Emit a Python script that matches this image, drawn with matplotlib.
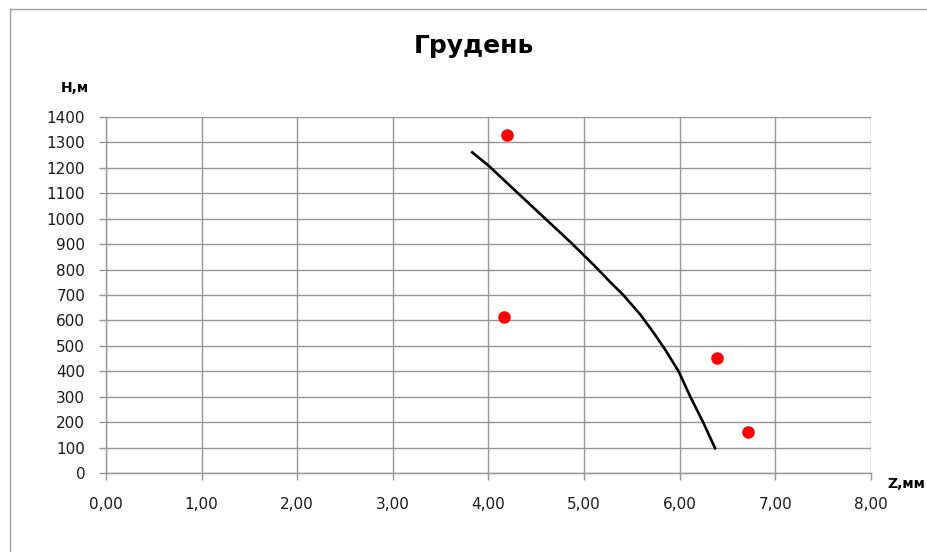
import numpy as np
import matplotlib
matplotlib.use("Agg")
import matplotlib.pyplot as plt
from matplotlib.lines import Line2D

# measured points (Z, mm ; H, m)
z_pts = [4.19, 4.16, 6.39, 6.71]
h_pts = [1328, 612, 451, 161]

# fitted curve
z_line = [3.83, 4.00, 4.31, 4.59, 4.87, 5.10, 5.27, 5.41, 5.59, 5.73, 5.85, 5.99, 6.11, 6.25, 6.37]
h_line = [1260, 1208, 1099, 1001, 903, 818, 752, 700, 622, 550, 484, 399, 301, 196, 98]

x_ticks = [0, 1, 2, 3, 4, 5, 6, 7, 8]
y_ticks = list(range(0, 1500, 100))

grid_col = '#969696'

fig = plt.figure(figsize=(9.28, 5.52), dpi=100)
ax = fig.add_axes([106/928, 1 - 473.3/552, (871 - 106)/928, (473.3 - 116.7)/552])

ax.plot(z_line, h_line, color='black', lw=1.9, solid_joinstyle='round', zorder=3)
ax.plot(z_pts, h_pts, 'o', color='#ff0000', ms=8, zorder=4)

ax.set_xlim(0, 8)
ax.set_ylim(0, 1400)
ax.set_xticks(x_ticks)
ax.set_yticks(y_ticks)
ax.set_xticklabels([('%.2f' % v).replace('.', ',') for v in x_ticks])
ax.grid(True, color=grid_col, lw=1.0)
ax.set_axisbelow(True)

for s in ['top', 'right']:
    ax.spines[s].set_visible(False)
for s in ['left', 'bottom']:
    ax.spines[s].set_color(grid_col)
    ax.spines[s].set_linewidth(1.0)

ax.tick_params(axis='both', colors=grid_col, length=5, width=1.0, labelcolor='#1a1a1a', labelsize=11)
ax.tick_params(axis='x', pad=12)
ax.tick_params(axis='y', pad=10)

fig.text(474/928, 1 - 46/552, 'Грудень', ha='center', va='center',
         fontsize=18, fontweight='bold')
fig.text(89/928, 1 - 88/552, 'H,м', ha='right', va='center', fontsize=10, fontweight='bold')
fig.text(887/928, 1 - 484/552, 'Z,мм', ha='left', va='center', fontsize=10, fontweight='bold')

# outer chart border (only top and left are visible in the crop)
fig.add_artist(Line2D([10/928, 10/928], [-0.05, 1 - 9/552], transform=fig.transFigure, color='#a0a0a0', lw=1.0))
fig.add_artist(Line2D([10/928, 1.05], [1 - 9/552, 1 - 9/552], transform=fig.transFigure, color='#a0a0a0', lw=1.0))

fig.savefig('out.png', dpi=100)
